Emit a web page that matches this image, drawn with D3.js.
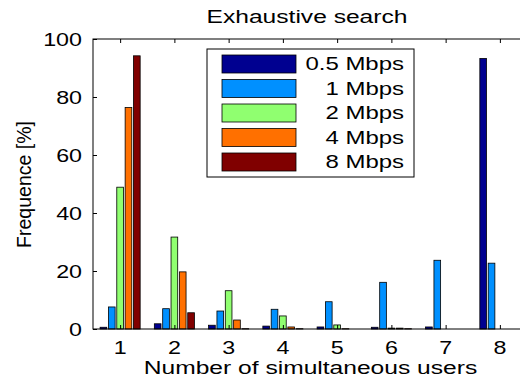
<!DOCTYPE html>
<html>
<head>
<meta charset="utf-8">
<script src="https://cdn.jsdelivr.net/npm/d3@7"></script>
<style>
  body { margin: 0; background: #fff; }
  text { font-family: "Liberation Sans", Arial, sans-serif; fill: #000; }
</style>
</head>
<body>
<svg width="520" height="382"></svg>
<script>
// data
var users = [1, 2, 3, 4, 5, 6, 7, 8];
var seriesNames = ["0.5 Mbps", "1 Mbps", "2 Mbps", "4 Mbps", "8 Mbps"];
var colors = ["#000090", "#0090ff", "#90ff70", "#ff7000", "#800000"];
var v05 = [0.6, 1.8, 1.3, 1.0, 0.7, 0.6, 0.7, 93.3];
var v1 = [7.6, 7.0, 6.2, 6.8, 9.4, 16.1, 23.7, 22.7];
var v2 = [48.9, 31.7, 13.2, 4.5, 1.4, 0.3, 0, 0];
var v4 = [76.4, 19.7, 3.1, 0.7, 0.1, 0.3, 0, 0];
var v8 = [94.2, 5.6, 0.1, 0.1, 0, 0.1, 0, 0];
var yTicks = [0, 20, 40, 60, 80, 100];

var series = [v05, v1, v2, v4, v8];

var svg = d3.select("svg");
var margin = { top: 39, left: 93 };
var plotRight = 527;   // the axes box runs past the image edge
var plotBottom = 329;
var stretch = 1.33;    // the text in the picture is wide

var x = d3.scaleLinear().domain([0.5, 8.5]).range([margin.left, plotRight]);
var y = d3.scaleLinear().domain([0, 100]).range([plotBottom, margin.top]);

// text drawn wide, anchored at (tx, ty)
function wideText(tx, ty, str, size, anchor, sx) {
  return svg.append("text")
    .attr("transform", "translate(" + tx + "," + ty + ") scale(" + (sx || stretch) + ",1)")
    .attr("text-anchor", anchor)
    .style("font-size", size + "px")
    .text(str);
}

// MATLAB style grouped bars
var groupWidth = 5 / 6.5;
var step = groupWidth / 5;
var barW = x(step * 0.8) - x(0);

var g = svg.append("g");

series.forEach(function (vals, si) {
  g.selectAll(".bar" + si)
    .data(vals)
    .enter().append("rect")
    .attr("x", function (d, i) { return x(users[i] - groupWidth / 2 + step * (si + 0.5)) - barW / 2; })
    .attr("y", function (d) { return y(d); })
    .attr("width", barW)
    .attr("height", function (d) { return y(0) - y(d); })
    .attr("fill", colors[si])
    .attr("stroke", "#000")
    .attr("stroke-width", 0.8);
});

// axes box
svg.append("rect")
  .attr("x", margin.left).attr("y", margin.top)
  .attr("width", plotRight - margin.left).attr("height", plotBottom - margin.top)
  .attr("fill", "none").attr("stroke", "#000").attr("stroke-width", 1);

// inward ticks
var yg = svg.append("g").attr("transform", "translate(" + margin.left + ",0)")
  .call(d3.axisLeft(y).tickValues(yTicks).tickSize(-4).tickFormat(""));
yg.select(".domain").remove();

var xg = svg.append("g").attr("transform", "translate(0," + plotBottom + ")")
  .call(d3.axisBottom(x).tickValues(users).tickSize(-4).tickFormat(""));
xg.select(".domain").remove();

svg.append("g").attr("transform", "translate(0," + margin.top + ")")
  .call(d3.axisTop(x).tickValues(users).tickSize(-4).tickFormat(""))
  .select(".domain").remove();

// tick labels
yTicks.forEach(function (t) {
  wideText(82, y(t) + 6.5, t, 17.5, "end");
});
users.forEach(function (u) {
  wideText(x(u), 353.5, u, 17.5, "middle");
});

// titles
wideText(307, 23, "Exhaustive search", 18.5, "middle");
wideText(310.5, 373.5, "Number of simultaneous users", 18.5, "middle");

svg.append("text")
  .attr("transform", "translate(31,184.5) rotate(-90)")
  .attr("text-anchor", "middle")
  .style("font-size", "19.5px")
  .text("Frequence [%]");

// legend
svg.append("rect")
  .attr("x", 207).attr("y", 49).attr("width", 207).attr("height", 128)
  .attr("fill", "#fff").attr("stroke", "#000").attr("stroke-width", 1);

seriesNames.forEach(function (name, i) {
  var cy = 64 + i * 24.5;
  svg.append("rect")
    .attr("x", 222).attr("y", cy - 9).attr("width", 74).attr("height", 18)
    .attr("fill", colors[i]).attr("stroke", "#000").attr("stroke-width", 0.8);
  wideText(404, cy + 6.3, name, 17.5, "end", 1.37);
});
</script>
</body>
</html>
